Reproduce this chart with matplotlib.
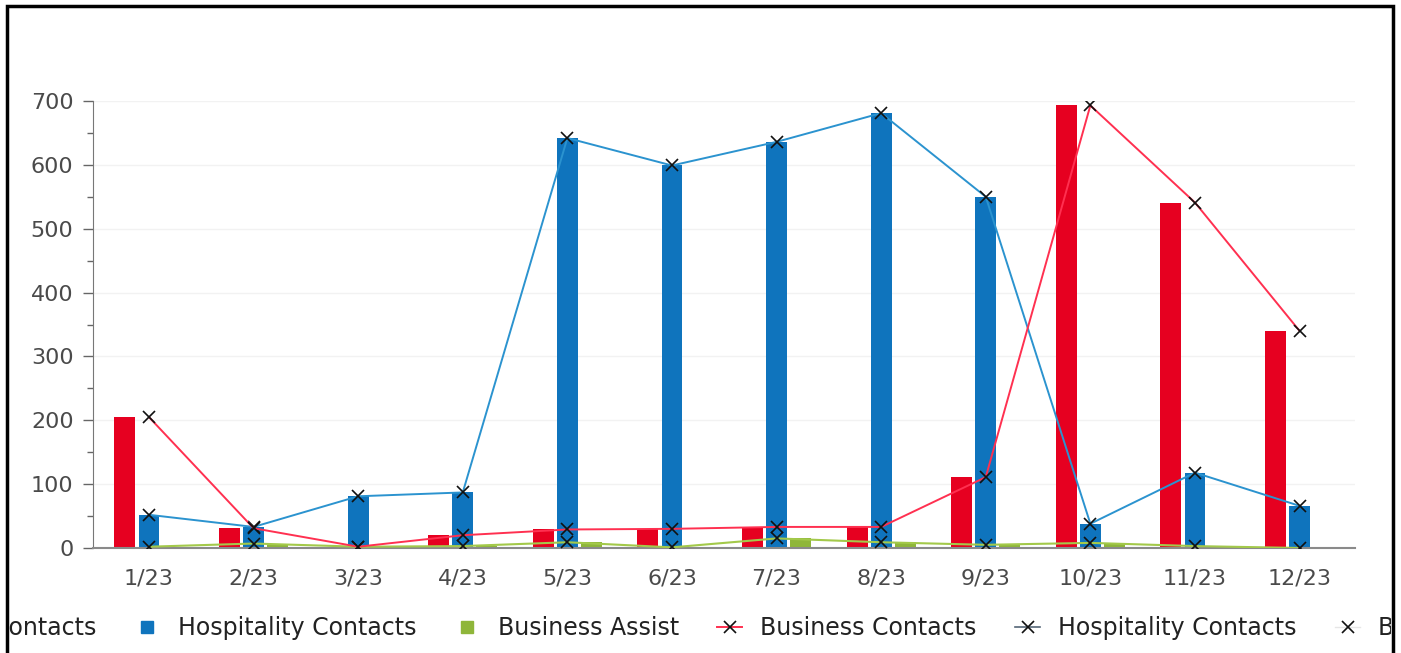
import matplotlib
matplotlib.use("Agg")
import matplotlib.pyplot as plt
from matplotlib.lines import Line2D
from matplotlib.patches import Rectangle
import numpy as np

months = ['1/23', '2/23', '3/23', '4/23', '5/23', '6/23',
          '7/23', '8/23', '9/23', '10/23', '11/23', '12/23']
business_contacts = [205, 31, 2, 20, 29, 30, 33, 33, 111, 693, 541, 340]
hospitality_contacts = [52, 33, 81, 87, 642, 599, 636, 681, 550, 38, 118, 66]
business_assist = [2, 7, 2, 3, 9, 1, 15, 9, 5, 8, 3, 0]
y_ticks = [0, 100, 200, 300, 400, 500, 600, 700]

RED = '#e60020'
BLUE = '#0f74bd'
GREEN = '#8fb63a'
RED_LINE = '#ff3050'
BLUE_LINE = '#2b93cf'
GREEN_LINE = '#a3c94a'

plt.rcParams['font.family'] = ['DejaVu Sans']

fig = plt.figure(figsize=(14.01, 6.53), dpi=100)
ax = fig.add_axes([93 / 1401, 105 / 653, (1355 - 93) / 1401, (548 - 101) / 653])

x = np.arange(len(months))
bw = 0.2
step = 0.23
ax.bar(x - step, business_contacts, width=bw, color=RED, zorder=2)
ax.bar(x, hospitality_contacts, width=bw, color=BLUE, zorder=2)
ax.bar(x + step, business_assist, width=bw, color=GREEN, zorder=2)

mk = dict(marker='x', markersize=9, markeredgecolor='#111111', markeredgewidth=1.2)
ax.plot(x, business_assist, color=GREEN_LINE, lw=1.5, zorder=3, **mk)
ax.plot(x, hospitality_contacts, color=BLUE_LINE, lw=1.4, zorder=3, **mk)
ax.plot(x, business_contacts, color=RED_LINE, lw=1.4, zorder=3, **mk)

ax.set_xlim(-0.535, 11.53)
ax.set_ylim(0, 700)
ax.set_yticks(y_ticks)
ax.set_yticks(np.arange(50, 700, 100), minor=True)
ax.set_xticks(x)
ax.set_xticklabels(months)
ax.tick_params(axis='y', which='major', length=7, width=1, color='#666666',
               labelsize=16, labelcolor='#4a4a4a', pad=7)
ax.tick_params(axis='y', which='minor', length=4, width=1, color='#666666')
ax.tick_params(axis='x', length=0, labelsize=16, labelcolor='#4a4a4a', pad=15)

for s in ['top', 'right']:
    ax.spines[s].set_visible(False)
ax.spines['left'].set_color('#777777')
ax.spines['bottom'].set_color('#8a8a8a')
ax.spines['bottom'].set_linewidth(1.5)

ax.yaxis.grid(True, color='#f2f2f2', lw=1, zorder=0)
ax.set_axisbelow(True)

handles = [
    Line2D([], [], ls='none', marker='s', markersize=9, color=RED),
    Line2D([], [], ls='none', marker='s', markersize=9, color=BLUE),
    Line2D([], [], ls='none', marker='s', markersize=9, color=GREEN),
    Line2D([], [], color=RED_LINE, lw=1.4, marker='x', markersize=9,
           markeredgecolor='#111111', markeredgewidth=1.2),
    Line2D([], [], color='#556677', lw=1.2, marker='x', markersize=9,
           markeredgecolor='#111111', markeredgewidth=1.2),
    Line2D([], [], color='#e6e6e6', lw=1.0, marker='x', markersize=9,
           markeredgecolor='#111111', markeredgewidth=1.2),
]
labels = ['Business Contacts', 'Hospitality Contacts', 'Business Assist',
          'Business Contacts', 'Hospitality Contacts', 'Business Assist']
leg = fig.legend(handles, labels, loc='center', bbox_to_anchor=(698 / 1401, 1 - 628 / 653),
                 ncol=6, frameon=False, fontsize=17, handlelength=1.06,
                 handletextpad=0.76, columnspacing=1.63, labelcolor='#222222')

# the chart image is cropped at its frame: clip legend content to inside the frame
clip_rect = Rectangle((9 / 1401, 0), (1391 - 9) / 1401, 1, transform=fig.transFigure)
for t in leg.get_texts():
    t.set_clip_path(clip_rect)
for h in leg.legend_handles:
    h.set_clip_path(clip_rect)

fig.patches.append(Rectangle((7 / 1401, -0.05), (1393 - 7) / 1401, 1.05 - 6 / 653,
                             transform=fig.transFigure, fill=False,
                             edgecolor='black', lw=2.5, zorder=10))

fig.savefig('out.png', dpi=100)
